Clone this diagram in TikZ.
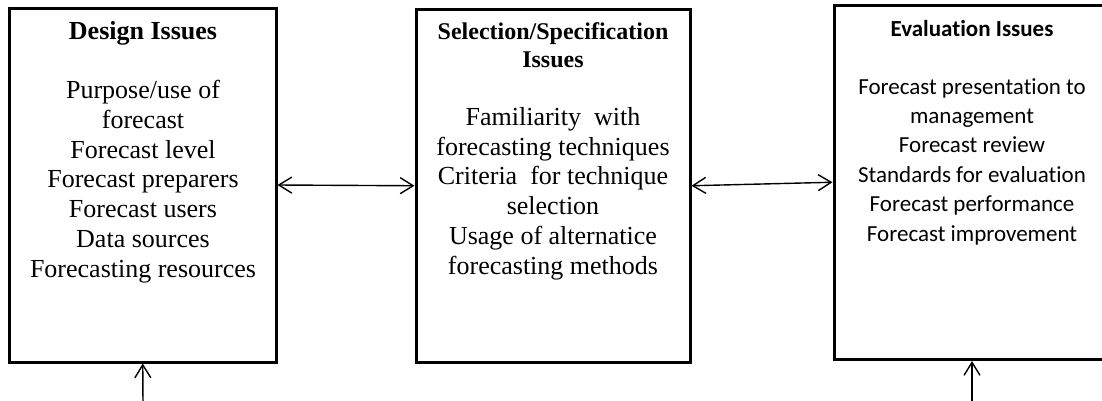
\documentclass[tikz,border=0pt]{standalone}
\usepackage{fontspec}
\setmainfont{Liberation Serif}
\newfontfamily\calfont[Ligatures={NoCommon}]{Carlito}
\usetikzlibrary{arrows.meta}
\tikzset{
  issuebox/.style={draw=black, line width=3pt, fill=white, inner sep=0pt},
  link/.style={line width=1.4pt, {Straight Barb[length=13pt,width=16pt]}-{Straight Barb[length=13pt,width=16pt]}},
  uplink/.style={line width=1.4pt, -{Straight Barb[length=13pt,width=16pt]}},
  tnr/.style={font=\fontsize{26}{29.8}\selectfont, align=center, inner sep=0pt, anchor=north},
  tnrtitle/.style={font=\bfseries\fontsize{24}{28}\selectfont, align=center, inner sep=0pt, anchor=north},
  cal/.style={font=\calfont\fontsize{23}{29.4}\selectfont, align=center, inner sep=0pt, anchor=north},
  caltitle/.style={font=\calfont\bfseries\fontsize{23}{28}\selectfont, align=center, inner sep=0pt, anchor=north}
}
\begin{document}
\begin{tikzpicture}[x=1pt,y=-1pt]
\useasboundingbox[fill=white] (0,0) rectangle (1102,400);
\clip (0,0) rectangle (1102,400);
% boxes
\node[issuebox, minimum width=266.5pt, minimum height=354pt] (b1) at (142.75,185) {};
\node[issuebox, minimum width=274pt, minimum height=352.5pt] (b2) at (553,185.75) {};
\node[issuebox, minimum width=276pt, minimum height=354.5pt] (b3) at (972,182.25) {};
% texts
\node[tnrtitle, font=\bfseries\fontsize{26}{28}\selectfont] (t1) at (143,21) {Design Issues};
\node[tnr] (l1) at (143,80) {Purpose/use of\\forecast\\Forecast level\\Forecast preparers\\Forecast users\\Data sources\\Forecasting resources};
\node[tnrtitle] (t2) at (553,22) {Selection/Specification\\Issues};
\node[tnr] (l2) at (553,107) {Familiarity\ \ with\\forecasting techniques\\Criteria\ \ for technique\\selection\\Usage\ of alternatice\\forecasting methods};
\node[caltitle] (t3) at (972,20) {Evaluation Issues};
\node[cal] (l3) at (972,78) {Forecast presentation to\\management\\Forecast review\\Standards for evaluation\\Forecast performance\\Forecast improvement};
% connectors
\draw[link] (b1.east) -- (b2.west);
\draw[link] (b2.east) -- (b3.west);
\coordinate (s1) at (143,405);
\coordinate (s3) at (972,405);
\draw[uplink] (s1) -- (b1.south);
\draw[uplink] (s3) -- (b3.south);
\end{tikzpicture}
\end{document}
